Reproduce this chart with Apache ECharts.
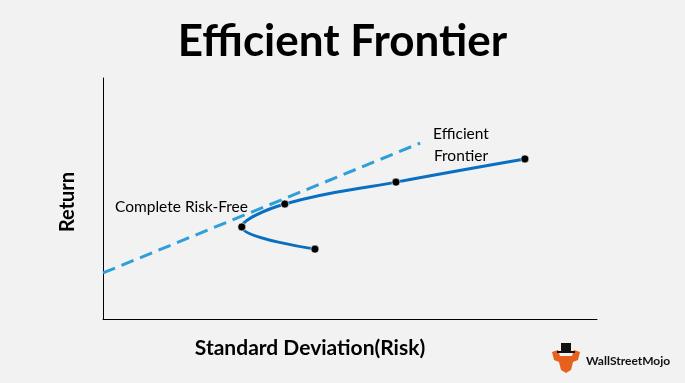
<!DOCTYPE html>
<html><head><meta charset="utf-8">
<script src="https://cdn.jsdelivr.net/npm/echarts@6/dist/echarts.min.js"></script>
<style>html,body{margin:0;padding:0;background:#f2f2f2}#c{width:685px;height:383px}</style>
</head><body><div id="c"></div>
<script>
const titleText = "Efficient Frontier";
const xAxisName = "Standard Deviation(Risk)";
const yAxisName = "Return";
// frontier curve points, in drawing order [risk, return]
const frontierX = [42.9, 28.1, 36.8, 59.3, 85.4];
const frontierY = [29.0, 38.2, 47.7, 56.8, 66.4];
// capital allocation (dashed) line endpoints
const lineX = [0, 64.2];
const lineY = [19.1, 73.0];
const labelRiskFree = "Complete Risk-Free";
const labelFrontier = "Efficient\nFrontier";

const chart = echarts.init(document.getElementById('c'), null, {renderer:'canvas'});
const zip = (a,b)=>a.map((v,i)=>[v,b[i]]);
chart.setOption({
  backgroundColor:'#f2f2f2',
  animation:false,
  title:{text:titleText,left:'center',top:15,textStyle:{fontFamily:'Lato',fontWeight:'bold',fontSize:44,color:'#000'}},
  grid:{left:103,top:78,width:494,height:241},
  xAxis:{type:'value',min:0,max:100,axisLine:{show:true,lineStyle:{color:'#000',width:1}},axisTick:{show:false},axisLabel:{show:false},splitLine:{show:false}},
  yAxis:{type:'value',min:0,max:100,axisLine:{show:true,lineStyle:{color:'#000',width:1}},axisTick:{show:false},axisLabel:{show:false},splitLine:{show:false}},
  series:[
    {type:'line',data:zip(lineX,lineY),symbol:'none',lineStyle:{color:'#2e9fd8',width:3,type:[13,7]},z:2},
    {type:'line',data:zip(frontierX,frontierY),smooth:0.4,symbol:'circle',symbolSize:8,
      itemStyle:{color:'#000',borderColor:'rgba(255,255,255,0.6)',borderWidth:1},
      lineStyle:{color:'#0a6fc2',width:3},z:3}
  ],
  graphic:[
    {type:'text',x:310,y:348,style:{text:xAxisName,fontFamily:'Lato',fontWeight:'bold',fontSize:21,fill:'#000',align:'center',verticalAlign:'middle'}},
    {type:'text',x:68,y:202,rotation:Math.PI/2,style:{text:yAxisName,fontFamily:'Lato',fontWeight:'bold',fontSize:20,fill:'#000',align:'center',verticalAlign:'middle'}},
    {type:'text',left:115,top:199,style:{text:labelRiskFree,fontFamily:'Lato',fontSize:15.5,fill:'#000'}},
    {type:'text',x:461,y:145,style:{text:labelFrontier,fontFamily:'Lato',fontSize:15.5,fill:'#000',align:'center',verticalAlign:'middle',lineHeight:22}},
    {type:'polygon',shape:{points:[[552,352],[558,350],[560,356],[566,356],[572,356],[574,350],[580,352],[578,360],[573,362],[571,370],[566,373],[561,370],[559,362],[554,360]]},style:{fill:'#e8611c'}},
    {type:'rect',shape:{x:561,y:343,width:10,height:9},style:{fill:'#111'}},
    {type:'rect',shape:{x:557,y:351,width:18,height:2},style:{fill:'#111'}},
    {type:'text',left:586,top:355,style:{text:'WallStreetMojo',fontFamily:'Lato',fontWeight:'bold',fontSize:12,fill:'#111'}}
  ]
});
</script></body></html>
